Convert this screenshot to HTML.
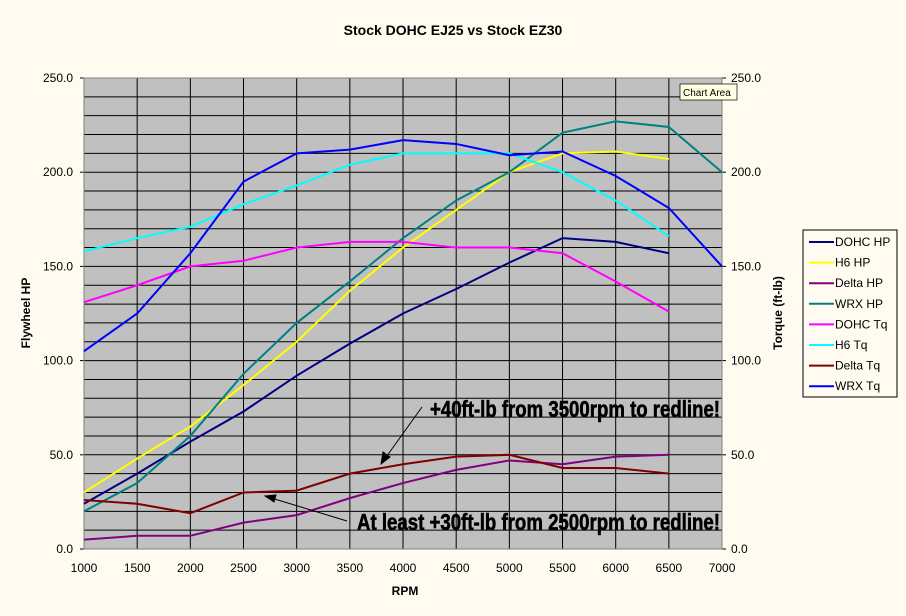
<!DOCTYPE html><html><head><meta charset="utf-8"><style>body{margin:0;background:#FFFBF0}svg{display:block}text{font-family:"Liberation Sans",sans-serif}</style></head><body>
<svg width="906" height="616" xmlns="http://www.w3.org/2000/svg">
<rect width="906" height="616" fill="#FFFBF0"/>
<text x="453" y="35" font-size="14" font-weight="bold" text-anchor="middle">Stock DOHC EJ25 vs Stock EZ30</text>
<rect x="84" y="78" width="638" height="471" fill="#C0C0C0"/>
<g id="grid" stroke="#000" stroke-width="1"></g>
<rect x="84" y="78" width="638" height="471" fill="none" stroke="#808080"/>
<g id="lines" fill="none" stroke-width="2"></g>
<g font-size="12" id="lbl"></g>
<text x="405" y="595" font-size="12" font-weight="bold" text-anchor="middle">RPM</text>
<text transform="translate(30,313) rotate(-90)" font-size="12" font-weight="bold" text-anchor="middle">Flywheel HP</text>
<text transform="translate(782,313) rotate(-90)" font-size="12" font-weight="bold" text-anchor="middle">Torque (ft-lb)</text>
<rect x="680" y="84" width="57" height="16" fill="#FFFFE1" stroke="#000" stroke-width="0.7"/>
<text x="683" y="96" font-size="10">Chart Area</text>
<rect x="803" y="230" width="94" height="167" fill="#FFFBF0" stroke="#000"/>
<g id="leg" font-size="12"></g>
<text x="430" y="417" font-size="23" font-weight="bold" stroke="#000" stroke-width="0.6" textLength="290" lengthAdjust="spacingAndGlyphs">+40ft-lb from 3500rpm to redline!</text>
<text x="357" y="530" font-size="23" font-weight="bold" stroke="#000" stroke-width="0.6" textLength="363" lengthAdjust="spacingAndGlyphs">At least +30ft-lb from 2500rpm to redline!</text>
<g stroke="#000" fill="#000">
<line x1="422" y1="407" x2="384" y2="460"/><polygon points="381,464 383,452 390,457"/>
<line x1="347" y1="521" x2="268" y2="497"/><polygon points="265,496 276,495 274,502"/>
</g>
</svg>
<script>
const X=r=>84+(r-1000)/500*53.17, Y=v=>549-v*1.884;
let g=document.getElementById('grid'),s='';
for(let v=10;v<250;v+=10)s+=`<line x1="84" x2="722" y1="${Y(v)}" y2="${Y(v)}"/>`;
for(let r=1500;r<7000;r+=500)s+=`<line y1="78" y2="549" x1="${X(r)}" x2="${X(r)}"/>`;
for(let v=0;v<=250;v+=50){s+=`<line x1="80" x2="84" y1="${Y(v)}" y2="${Y(v)}"/><line x1="722" x2="726" y1="${Y(v)}" y2="${Y(v)}"/>`}
g.innerHTML=s;
let l='';
for(let v=0;v<=250;v+=50){l+=`<text x="73" y="${Y(v)+4}" text-anchor="end">${v.toFixed(1)}</text><text x="731" y="${Y(v)+4}">${v.toFixed(1)}</text>`}
for(let r=1000;r<=7000;r+=500)l+=`<text x="${X(r)}" y="572" text-anchor="middle">${r}</text>`;
document.getElementById('lbl').innerHTML=l;
const D=[["DOHC HP","#000080",[24,40,57,73,92,109,125,138,152,165,163,157]],
["H6 HP","#FFFF00",[30,48,65,87,110,137,160,180,200,210,211,207]],
["Delta HP","#800080",[5,7,7,14,18,27,35,42,47,45,49,50]],
["WRX HP","#008080",[20,35,60,93,120,142,165,185,200,221,227,224,200]],
["DOHC Tq","#FF00FF",[131,140,150,153,160,163,163,160,160,157,142,126]],
["H6 Tq","#00FFFF",[158,165,171,183,193,204,210,210,210,200,185,166]],
["Delta Tq","#800000",[26,24,19,30,31,40,45,49,50,43,43,40]],
["WRX Tq","#0000FF",[105,125,157,195,210,212,217,215,209,211,198,181,150]]];
let p='',lg='';
D.forEach((d,i)=>{p+=`<polyline stroke="${d[1]}" points="${d[2].map((v,j)=>X(1000+500*j)+','+Y(v)).join(' ')}"/>`;
let y=242+i*20.6;lg+=`<line x1="809" x2="834" y1="${y}" y2="${y}" stroke="${d[1]}" stroke-width="2"/><text x="835" y="${y+4}">${d[0]}</text>`});
document.getElementById('lines').innerHTML=p;document.getElementById('leg').innerHTML=lg;
</script>
</body></html>
